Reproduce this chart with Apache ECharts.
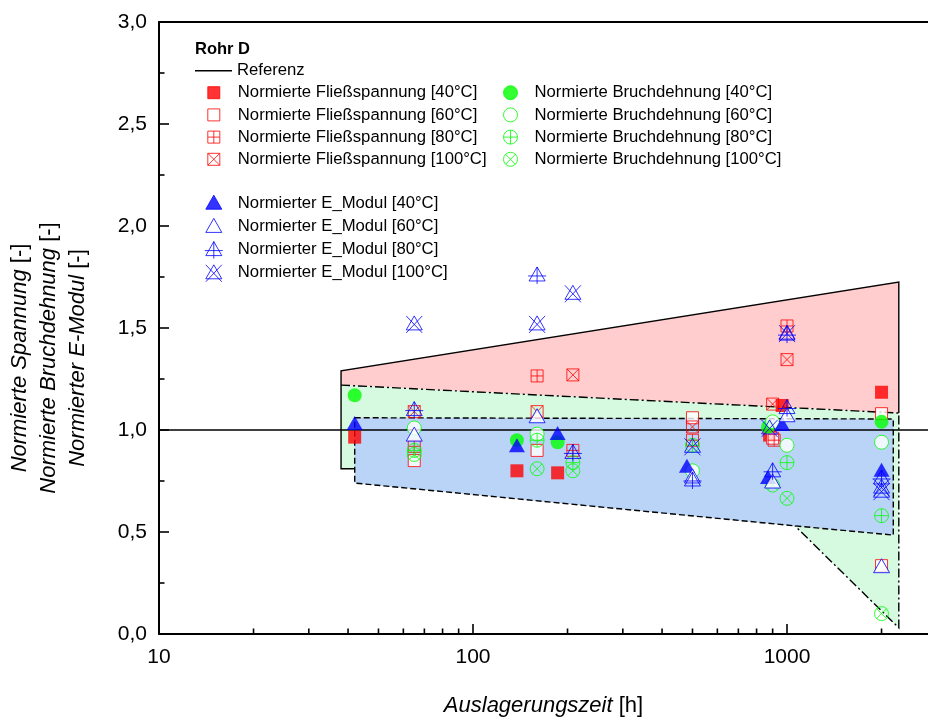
<!DOCTYPE html>
<html>
<head>
<meta charset="utf-8">
<script src="https://cdn.jsdelivr.net/npm/echarts@6/dist/echarts.min.js"></script>
<style>html,body{margin:0;padding:0;background:#fff;}#c{width:928px;height:721px;}</style>
</head>
<body>
<div id="c"></div>
<script>
// ---------- data ----------
const xTickLabels = [10, 100, 1000];
const xMinorTicks = [20,30,40,50,60,70,80,90,200,300,400,500,600,700,800,900,2000];
const referenceLine = [[10, 1.0], [2812, 1.0]];

// shaded bands (vertices: [hours, value])
const bandUpper  = [[38,1.29],[2270,1.725],[2270,1.083],[38,1.22]];
const bandMiddle = [[38,1.22],[2270,1.083],[2270,0.03],[1060,0.53],[42,0.74],[42,0.81],[38,0.81]];
const bandLower  = [[42,1.06],[2180,1.054],[2180,0.485],[1060,0.53],[42,0.74]];
const edgeSolid  = [[42,0.81],[38,0.81],[38,1.29],[2270,1.725],[2270,1.083]];
const edgeDashDot= [[38,1.22],[2270,1.083],[2270,0.03],[1060,0.53]];

// Normierte Fließspannung
const flies40  = [[42,0.965],[138,0.80],[186,0.79],[880,0.975],[965,1.12],[2000,1.185]];
const flies60  = [[65,0.85],[160,0.90],[500,1.06],[900,0.96],[2000,1.08],[2000,0.335]];
const flies80  = [[65,0.92],[160,1.265],[208,0.90],[500,0.95],[910,0.95],[1000,1.51]];
const flies100 = [[65,1.09],[160,1.09],[208,1.27],[500,1.015],[900,1.127],[1000,1.345]];
// Normierte Bruchdehnung
const bruch40  = [[42,1.17],[138,0.95],[186,0.94],[870,1.015],[2000,1.04]];
const bruch60  = [[65,1.01],[160,0.98],[500,0.80],[900,1.04],[1000,0.925],[2000,0.94]];
const bruch80  = [[65,0.90],[160,0.95],[208,0.84],[500,0.925],[1000,0.84],[2000,0.58]];
const bruch100 = [[65,0.88],[160,0.81],[208,0.80],[900,0.73],[1000,0.665],[2000,0.10]];
// Normierter E_Modul
const emod40  = [[42,1.03],[138,0.92],[186,0.98],[480,0.82],[870,0.765],[965,1.025],[2000,0.80]];
const emod60  = [[65,0.975],[160,1.065],[500,0.77],[900,0.745],[1000,1.07],[2000,0.33]];
const emod80  = [[65,1.10],[160,1.76],[208,0.89],[500,0.755],[900,0.80],[1000,1.11],[1000,1.47],[2000,0.765]];
const emod100 = [[65,1.52],[160,1.52],[208,1.67],[500,0.92],[880,1.01],[1000,1.475],[2000,0.72],[2000,0.70]];

// ---------- styling ----------
const FONT = 'Liberation Sans, Arial, sans-serif';
const RED = '#ff0000', GREEN = '#00ff00', BLUE = '#0000ff';
const NONE = 'rgba(0,0,0,0)';
const SQ      = 'path://M0 0L12 0L12 12L0 12Z';
const SQ_PLUS = 'path://M0 0L12 0L12 12L0 12Z M6 0L6 12 M0 6L12 6';
const SQ_X    = 'path://M0 0L12 0L12 12L0 12Z M0 0L12 12 M12 0L0 12';
const CI      = 'path://M0 7A7 7 0 1 1 14 7A7 7 0 1 1 0 7Z';
const CI_PLUS = 'path://M0 7A7 7 0 1 1 14 7A7 7 0 1 1 0 7Z M7 0L7 14 M0 7L14 7';
const CI_X    = 'path://M0 7A7 7 0 1 1 14 7A7 7 0 1 1 0 7Z M2.05 2.05L11.95 11.95 M11.95 2.05L2.05 11.95';
// triangles share a common box (-1,0)-(17,18)
const TRI     = 'path://M-1 0M17 18M8 1L16 15L0 15Z';
const TRI_PLUS= 'path://M-1 0M17 18M8 1L16 15L0 15Z M8 1L8 18 M-1 10L17 10';
const TRI_X   = 'path://M-1 0M17 18M8 1L16 15L0 15Z M0 1L16 18 M16 1L0 18';

function sc(name, data, symbol, size, fill, stroke) {
  return {
    type: 'scatter', name, data, symbol, symbolSize: size, symbolKeepAspect: true,
    itemStyle: { color: fill, borderColor: stroke || fill, borderWidth: stroke ? 1 : 0 },
    emphasis: { disabled: true }, z: 5, silent: true
  };
}
function shape(data, closed, style, z) {
  return {
    type: 'custom', data, z, silent: true,
    renderItem: function (params, api) {
      if (params.dataIndex !== 0) return;
      const pts = data.map(v => api.coord(v));
      return { type: closed ? 'polygon' : 'polyline', shape: { points: pts }, style: style };
    }
  };
}
function tickSeries(values) {
  return {
    type: 'custom', data: values.map(v => [v, 0]), z: 6, silent: true,
    renderItem: function (params, api) {
      const p = api.coord([api.value(0), 0]);
      return { type: 'line', shape: { x1: p[0], y1: p[1], x2: p[0], y2: p[1] - 5.5 },
               style: { stroke: '#000', lineWidth: 1.6 } };
    }
  };
}

const N = {
  f40: 'Normierte Fließspannung [40°C]', f60: 'Normierte Fließspannung [60°C]',
  f80: 'Normierte Fließspannung [80°C]', f100: 'Normierte Fließspannung [100°C]',
  b40: 'Normierte Bruchdehnung [40°C]', b60: 'Normierte Bruchdehnung [60°C]',
  b80: 'Normierte Bruchdehnung [80°C]', b100: 'Normierte Bruchdehnung [100°C]',
  e40: 'Normierter E_Modul [40°C]', e60: 'Normierter E_Modul [60°C]',
  e80: 'Normierter E_Modul [80°C]', e100: 'Normierter E_Modul [100°C]'
};

const legendText = { fontFamily: FONT, fontSize: 16.7, color: '#000', lineHeight: 18 };
const legendBase = { orient: 'vertical', padding: 0, itemGap: 4.2, selectedMode: false,
  textStyle: legendText, itemStyle: { borderWidth: 1 } };

const chart = echarts.init(document.getElementById('c'), null, { renderer: 'canvas' });
chart.setOption({
  animation: false,
  backgroundColor: '#fff',
  title: { text: 'Rohr D', left: 195, top: 40, padding: 0,
    textStyle: { fontFamily: FONT, fontSize: 16.5, fontWeight: 'bold', color: '#000', lineHeight: 18 } },
  legend: [
    Object.assign({}, legendBase, { data: [{ name: 'Referenz', icon: 'rect' }], left: 195, top: 61.7,
      itemWidth: 37, itemHeight: 1.4 }),
    Object.assign({}, legendBase, { data: [N.f40, N.f60, N.f80, N.f100], left: 207.3, top: 83.7, itemWidth: 38, itemHeight: 12 }),
    Object.assign({}, legendBase, { data: [N.b40, N.b60, N.b80, N.b100], left: 503, top: 83.7, itemWidth: 38, itemHeight: 14 }),
    Object.assign({}, legendBase, { data: [N.e40, N.e60, N.e80, N.e100], left: 204.3, top: 193.7, itemWidth: 38, itemHeight: 18 })
  ],
  grid: { left: 159, right: 0, top: 22, bottom: 87, outerBoundsMode: 'none', containLabel: false },
  xAxis: [{
    type: 'log', logBase: 10, min: 10, max: 2812, position: 'bottom',
    name: '{i|Auslagerungszeit} {n|[h]}', nameLocation: 'middle', nameGap: 61,
    nameTextStyle: { fontFamily: FONT, fontSize: 22, color: '#000',
      rich: { i: { fontStyle: 'italic', fontFamily: FONT, fontSize: 22, color: '#000' },
              n: { fontFamily: FONT, fontSize: 22, color: '#000' } } },
    axisLine: { show: true, lineStyle: { color: '#000', width: 2 } },
    axisTick: { show: true, inside: true, length: 10, lineStyle: { color: '#000', width: 1.6 } },
    minorTick: { show: false },
    splitLine: { show: false },
    axisLabel: { margin: 13, fontFamily: FONT, fontSize: 21, color: '#000', showMaxLabel: false,
      formatter: v => (xTickLabels.indexOf(Math.round(v)) >= 0 ? String(Math.round(v)) : '') }
  }, {
    type: 'log', logBase: 10, min: 10, max: 2812, position: 'top',
    axisLine: { show: true, onZero: false, lineStyle: { color: '#000', width: 2 } },
    axisTick: { show: false }, axisLabel: { show: false }, splitLine: { show: false }
  }],
  yAxis: {
    type: 'value', min: 0, max: 3, interval: 0.5,
    name: '{i|Normierte Spannung} {n|[-]}\n{i|Normierte Bruchdehnung} {n|[-]}\n{i|Normierter E-Modul} {n|[-]}',
    nameLocation: 'middle', nameGap: 67, nameRotate: 90,
    nameTextStyle: { fontFamily: FONT, fontSize: 22, color: '#000', lineHeight: 29, align: 'center',
      padding: [0, 60, 0, 0],
      rich: { i: { fontStyle: 'italic', fontFamily: FONT, fontSize: 22, color: '#000', lineHeight: 29 },
              n: { fontFamily: FONT, fontSize: 22, color: '#000', lineHeight: 29 } } },
    axisLine: { show: true, lineStyle: { color: '#000', width: 2 } },
    axisTick: { show: true, inside: true, length: 10, lineStyle: { color: '#000', width: 1.6 } },
    minorTick: { show: true, splitNumber: 2, length: 5.5, lineStyle: { color: '#000', width: 1.6 } },
    splitLine: { show: false },
    axisLabel: { margin: 12, fontFamily: FONT, fontSize: 21, color: '#000',
      formatter: v => v.toFixed(1).replace('.', ',') }
  },
  series: [
    shape(bandUpper, true, { fill: '#ffcdcd', stroke: null }, 1),
    shape(bandMiddle, true, { fill: '#d6fadf', stroke: null }, 1),
    shape(bandLower, true, { fill: '#bad4f8', stroke: null }, 1),
    shape(edgeSolid, false, { fill: null, stroke: '#000', lineWidth: 1.4 }, 2),
    shape(edgeDashDot, false, { fill: null, stroke: '#000', lineWidth: 1.4, lineDash: [9, 3, 2, 3] }, 2),
    shape(bandLower, true, { fill: null, stroke: '#000', lineWidth: 1.4, lineDash: [6, 3] }, 2),
    { type: 'line', name: 'Referenz', data: referenceLine, symbol: 'none', z: 3, silent: true,
      lineStyle: { color: '#000', width: 1.3 }, itemStyle: { color: '#000' } },
    sc(N.f40, flies40, SQ, 13, RED, null),
    sc(N.f60, flies60, SQ, 12, '#fff', RED),
    sc(N.f80, flies80, SQ_PLUS, 12, NONE, RED),
    sc(N.f100, flies100, SQ_X, 12, NONE, RED),
    sc(N.b40, bruch40, CI, 14, GREEN, null),
    sc(N.b60, bruch60, CI, 14, '#fff', GREEN),
    sc(N.b80, bruch80, CI_PLUS, 14, NONE, GREEN),
    sc(N.b100, bruch100, CI_X, 14, NONE, GREEN),
    sc(N.e40, emod40, TRI, 18, BLUE, null),
    sc(N.e60, emod60, TRI, 18, '#fff', BLUE),
    sc(N.e80, emod80, TRI_PLUS, 18, NONE, BLUE),
    sc(N.e100, emod100, TRI_X, 18, NONE, BLUE),
    tickSeries(xMinorTicks)
  ]
});
</script>
</body>
</html>
